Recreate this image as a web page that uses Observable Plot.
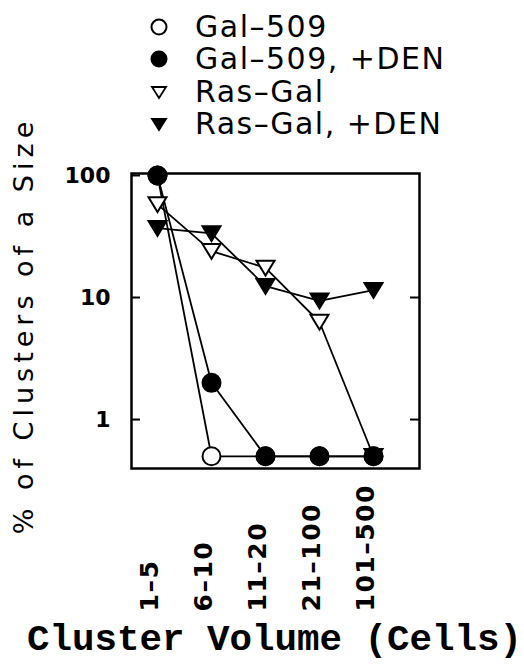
<!DOCTYPE html>
<html>
<head>
<meta charset="utf-8">
<script src="https://cdn.jsdelivr.net/npm/d3@7"></script>
<script src="https://cdn.jsdelivr.net/npm/@observablehq/plot@0.6"></script>
<style>
  html, body { margin: 0; padding: 0; background: #fff; }
  body { position: relative; width: 524px; height: 664px; overflow: hidden; font-family: "DejaVu Sans", sans-serif; color: #000; }
  #legend { position: absolute; left: 0; top: 0; width: 524px; height: 150px; z-index: 2; }
  .lg-sym { position: absolute; left: 148px; width: 22px; height: 22px; }
  .lg-txt { position: absolute; left: 195px; height: 32px; line-height: 32px; font-size: 30px; letter-spacing: 1.5px; white-space: pre; }
  #chart svg { display: block; }
  #title { font-family: "Liberation Mono", monospace; font-weight: bold; font-size: 37.5px; line-height: 40px; padding-left: 27px; white-space: nowrap; }
</style>
</head>
<body>
<div id="chart"></div>
<div id="title">Cluster Volume (Cells)</div>
<div id="legend"></div>
<script>
// ---- data ----
const categories = ["1–5", "6–10", "11–20", "21–100", "101–500"];
const series = ["Gal–509", "Gal–509, +DEN", "Ras–Gal", "Ras–Gal, +DEN"];
const gal509    = [100, 0.5, 0.5, 0.5, 0.5];
const gal509DEN = [100, 2.0, 0.5, 0.5, 0.5];
const rasGal    = [58, 24, 17.5, 6.3, 0.5];
const rasGalDEN = [37, 33.5, 12.4, 9.4, 11.5];
const yTicks = [1, 10, 100];
const yLabel = "% of Clusters of a Size";

// ---- table built from the arrays ----
const values = [gal509, gal509DEN, rasGal, rasGalDEN];
const rows = series.flatMap((s, i) => values[i].map((v, j) => ({series: s, size: categories[j], pct: v})));

// ---- styling ----
const triangleDown = {
  draw(context, size) {
    const r = Math.sqrt(size / Math.PI);
    context.moveTo(-r, -0.8 * r);
    context.lineTo(r, -0.8 * r);
    context.lineTo(0, 0.85 * r);
    context.closePath();
  }
};
const look = {
  "Gal–509":       {shape: "circle", fill: "white"},
  "Gal–509, +DEN": {shape: "circle", fill: "black"},
  "Ras–Gal":       {shape: triangleDown, fill: "white"},
  "Ras–Gal, +DEN": {shape: triangleDown, fill: "black"}
};
const dotOrder = ["Ras–Gal", "Ras–Gal, +DEN", "Gal–509", "Gal–509, +DEN"];

// ---- legend (HTML) ----
const legend = document.getElementById("legend");
series.forEach((s, i) => {
  const top = 11 + i * 32.4;
  const L = look[s];
  const sym = L.shape === "circle"
    ? `<circle cx="11" cy="11" r="7.5" fill="${L.fill}" stroke="black" stroke-width="2"/>`
    : `<path d="M4,6 L18,6 L11,17 Z" fill="${L.fill}" stroke="black" stroke-width="1.8" stroke-linejoin="miter"/>`;
  legend.insertAdjacentHTML("beforeend",
    `<svg class="lg-sym" style="top:${top + 5}px" viewBox="0 0 22 22">${sym}</svg>` +
    `<div class="lg-txt" style="top:${top}px">${s}</div>`);
});

// ---- chart ----
const chart = Plot.plot({
  width: 524,
  height: 620,
  marginTop: 173,
  marginBottom: 152,
  marginLeft: 131,
  marginRight: 105,
  style: {fontFamily: "DejaVu Sans, sans-serif", background: "white", color: "black"},
  x: {type: "point", domain: categories, padding: 0, insetLeft: 26, insetRight: 46, axis: null},
  y: {type: "log", domain: [0.397, 103.8], axis: null},
  marks: [
    Plot.tickY(yTicks, {y: d => d, insetRight: 279, stroke: "black", strokeWidth: 2}),
    Plot.tickY(yTicks.filter(d => d < 100), {y: d => d, insetLeft: 279, stroke: "black", strokeWidth: 2}),
    Plot.axisY(yTicks, {tickSize: 0, tickPadding: 21, tickFormat: d => String(d), label: null, fontSize: 22, fontWeight: "bold"}),
    Plot.text(categories, {x: d => d, text: d => d, frameAnchor: "bottom", rotate: -90, textAnchor: "start", dy: 143, fontSize: 25, fontWeight: "bold"}),
    Plot.text([yLabel], {text: d => d, frameAnchor: "left", textAnchor: "middle", rotate: -90, dx: -107, dy: 4.5, fontSize: 27}),
    Plot.line(rows, {x: "size", y: "pct", z: "series", stroke: "black", strokeWidth: 1.8}),
    ...dotOrder.map(s => Plot.dot(rows.filter(d => d.series === s), {
      x: "size", y: "pct", r: 9, symbol: look[s].shape, fill: look[s].fill, stroke: "black", strokeWidth: 2
    })),
    Plot.frame({stroke: "black", strokeWidth: 2.5})
  ]
});
const texts = d3.select(chart).selectAll("text");
texts.filter(function () { return categories.includes(this.textContent); })
  .style("letter-spacing", "1.5px");
texts.filter(function () { return this.textContent === yLabel; })
  .style("letter-spacing", "5px").style("font-size", "27px");
texts.filter(function () { return yTicks.map(String).includes(this.textContent); })
  .style("font-size", "22px").style("font-weight", "bold");
document.getElementById("chart").appendChild(chart);
</script>
</body>
</html>
